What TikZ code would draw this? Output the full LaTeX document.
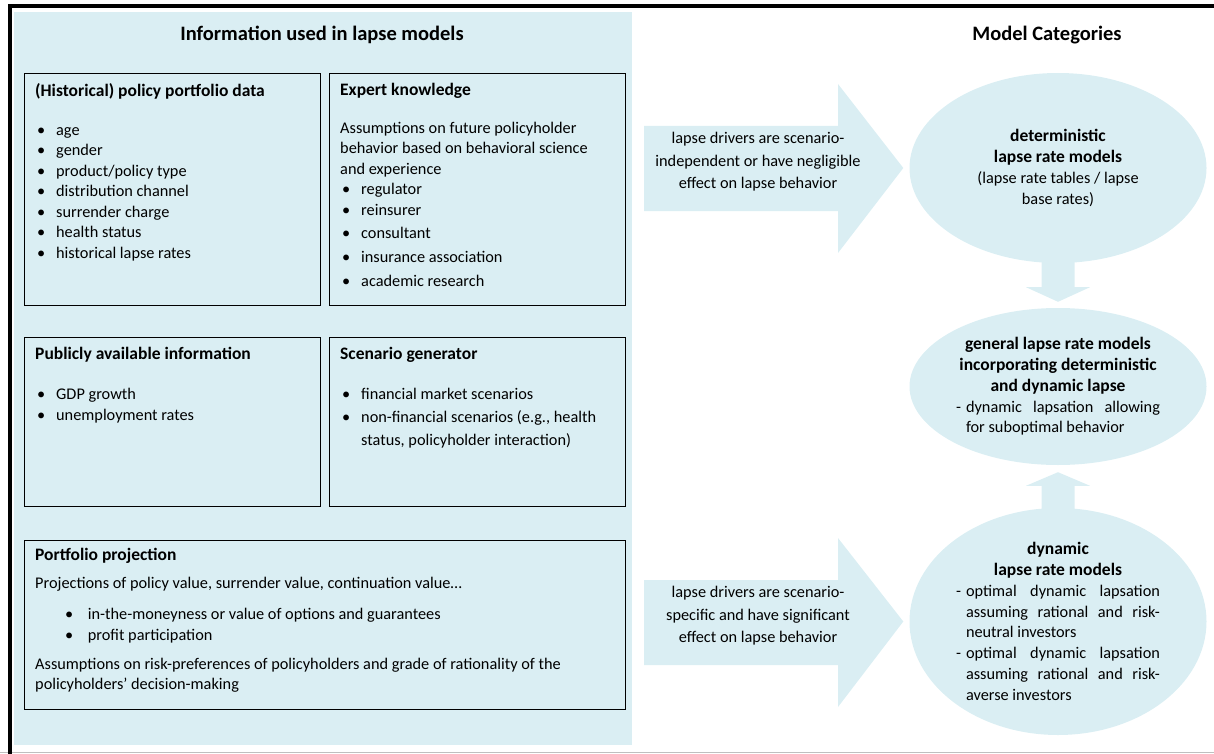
\documentclass[tikz,border=0pt]{standalone}
\usepackage{fontspec}
\setmainfont{Carlito}
\usetikzlibrary{positioning,shapes.geometric}
\definecolor{lapseblue}{HTML}{DAEEF3}
\newcommand{\bt}[1][2pt]{\hspace*{#1}\makebox[19pt][l]{\textbullet}}
\newcommand{\dsh}{\makebox[10pt][l]{-}}
\newcommand{\hd}[1]{{\fontsize{17.5}{20.5}\selectfont\bfseries #1}}

\begin{document}
\begin{tikzpicture}[x=1pt,y=-1pt,
  txt/.style={font=\fontsize{16.3}{20.5}\selectfont},
  head/.style={font=\fontsize{20.5}{24}\selectfont\bfseries},
  infobox/.style={draw,line width=0.9pt,anchor=north west,inner sep=0pt},
  boxtext/.style={txt,anchor=north west,align=left,inner sep=0pt},
  model/.style={ellipse,fill=lapseblue,inner sep=0pt,minimum width=297pt,
    font=\fontsize{16.3}{20.8}\selectfont,align=center},
  blk/.style={fill=lapseblue}]
\useasboundingbox (0,0) rectangle (1214,754);
\fill[lapseblue] (14,12) rectangle (632,745);
\draw[black!25,line width=1pt] (0,752.5) -- (1214,752.5);
\draw[line width=4pt] (10,754) -- (10,6.5) -- (1214,6.5);
\node[head] (info) at (322,35) {Information used in lapse models};
\node[head] (cat) at (1047,35) {Model Categories};
\node[infobox,minimum width=296pt,minimum height=232pt] (hist) at (24,73) {};
\node[infobox,minimum width=296pt,minimum height=232pt] (expert) at (329,73) {};
\node[infobox,minimum width=296pt,minimum height=169pt] (public) at (24,337) {};
\node[infobox,minimum width=296pt,minimum height=169pt] (scen) at (329,337) {};
\node[infobox,minimum width=601pt,minimum height=169pt] (proj) at (24,540) {};
\node[boxtext] (histtext) at ([shift={(11,10)}]hist.north west)
  {\hd{(Historical) policy portfolio data}\\[18.5pt]
   \bt age\\ \bt gender\\ \bt product/policy type\\ \bt distribution channel\\
   \bt surrender charge\\ \bt health status\\ \bt historical lapse rates};
\node[boxtext] (experttext) at ([shift={(11,10)}]expert.north west)
  {\hd{Expert knowledge}\\[17.5pt]
   Assumptions on future policyholder\\ behavior based on behavioral science\\
   and experience\\ \bt regulator\\ \bt reinsurer\\[2.5pt] \bt consultant\\[3.5pt]
   \bt insurance association\\[3.5pt] \bt academic research};
\node[boxtext] (publictext) at ([shift={(11,10)}]public.north west)
  {\hd{Publicly available information}\\[19.5pt]
   \bt GDP growth\\ \bt unemployment rates};
\node[boxtext] (scentext) at ([shift={(11,10)}]scen.north west)
  {\hd{Scenario generator}\\[19.5pt]
   \bt financial market scenarios\\[2.5pt]
   \bt non-financial scenarios (e.g., health\\[2.5pt]
   \hspace*{21pt}status, policyholder interaction)};
\node[boxtext] (projtext) at ([shift={(11,8)}]proj.north west)
  {\hd{Portfolio projection}\\[7.5pt]
   Projections of policy value, surrender value, continuation value…\\[10.5pt]
   \bt[30pt] in-the-moneyness or value of options and guarantees\\
   \bt[30pt] profit participation\\[8.5pt]
   Assumptions on risk-preferences of policyholders and grade of rationality of the\\
   policyholders’ decision-making};
\node[model,minimum height=190pt] (det) at (1058,168)
  {\hd{deterministic}\\\hd{lapse rate models}\\
   (lapse rate tables / lapse\\base rates)};
\node[model,minimum height=157pt] (gen) at (1058,386.5)
  {\hd{general lapse rate models}\\\hd{incorporating deterministic}\\
   \hd{and dynamic lapse}\\
   \parbox[t]{204pt}{\hangindent=10pt\hangafter=1\dsh dynamic lapsation allowing\linebreak for suboptimal behavior}};
\node[model,minimum height=227pt] (dyn) at (1058,621.5)
  {\hd{dynamic}\\\hd{lapse rate models}\\
   \parbox[t]{204pt}{\hangindent=10pt\hangafter=1\dsh optimal dynamic lapsation\linebreak
   assuming rational and risk-\linebreak neutral investors\par
   \hangindent=10pt\hangafter=1\dsh optimal dynamic lapsation\linebreak
   assuming rational and risk-\linebreak averse investors}};
\fill[blk] (644,126) -- (838,126) -- (838,84) -- ([xshift=-6pt]det.west)
  -- (838,253) -- (838,211) -- (644,211) -- cycle;
\fill[blk] (644,580) -- (838,580) -- (838,538) -- ([xshift=-6pt]dyn.west)
  -- (838,707) -- (838,665) -- (644,665) -- cycle;
\fill[blk] ([shift={(-16.5,-5)}]det.south) -- ++(0,29) -- ++(-15.5,0)
  -- ([shift={(0,-6)}]gen.north) -- ([shift={(32,24)}]det.south) -- ++(-15.5,0)
  -- ++(0,-29) -- cycle;
\fill[blk] ([shift={(-16.5,5)}]dyn.north) -- ++(0,-27) -- ++(-15.5,0)
  -- ([shift={(0,7)}]gen.south) -- ([shift={(32,-22)}]dyn.north) -- ++(-15.5,0)
  -- ++(0,27) -- cycle;
\node[txt,align=center] (indep) at (758,162)
  {lapse drivers are scenario-\\[2pt]independent or have negligible\\[2pt]effect on lapse behavior};
\node[txt,align=center] (specific) at (758,616)
  {lapse drivers are scenario-\\[2pt]specific and have significant\\[2pt]effect on lapse behavior};
\end{tikzpicture}
\end{document}
